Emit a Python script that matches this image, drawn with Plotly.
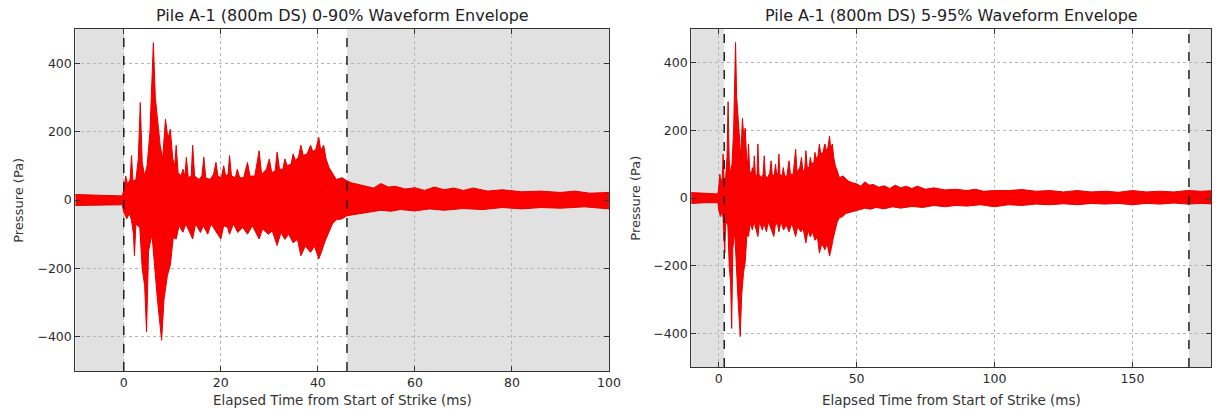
import plotly.graph_objects as go

# ---------------- data ----------------
# upper envelope of the waveform: time (ms), pressure (Pa)
t_upper = [-10, -5, -0.3, 0, 0.4, 0.8, 1.3, 1.6, 1.9, 2.5, 3.0, 3.4, 3.8, 4.3, 4.8, 5.4, 6.1,
           6.5, 7.0, 7.5, 8.0, 8.6, 9.1, 9.6, 10.1, 10.5, 10.8, 11.2, 11.8, 12.2, 12.6, 12.9,
           13.3, 13.9, 14.2, 14.6, 15.5, 16.1, 16.5, 16.9, 17.8, 18.5, 19.0, 19.4, 20.1, 20.6,
           21.0, 21.5, 21.8, 22.2, 23.0, 23.4, 23.9, 24.7, 25.5, 26.0, 27.0, 27.9, 28.4, 29.4,
           30.0, 30.5, 31.2, 31.6, 32.1, 32.8, 33.2, 33.7, 34.5, 34.9, 35.4, 36.0, 36.5, 37.0,
           37.8, 38.5, 39.0, 39.6, 40.2, 40.6, 41.2, 41.7, 42.3, 43.0, 43.8, 45.0, 46.0, 47.0,
           48.5, 50.0, 51.5, 53.0, 54.5, 56.0, 58.0, 60.0, 62.0, 64.0, 66.0, 68.0, 70.0, 72.0,
           75.0, 78.0, 82.0, 86.0, 90.0, 93.0, 96.0, 100, 105, 110, 115, 120, 125, 130, 135,
           140, 145, 150, 155, 160, 165, 170, 175, 180]
p_upper = [16, 14, 12, 30, 70, 45, 60, 130, 55, 60, 120, 285, 110, 70, 100, 200, 460,
           300, 230, 160, 120, 236, 180, 207, 120, 100, 160, 80, 70, 90, 70, 125,
           65, 70, 160, 70, 60, 70, 125, 65, 60, 75, 110, 70, 65, 100,
           70, 75, 130, 70, 65, 90, 65, 65, 110, 70, 70, 144, 75, 90,
           120, 80, 85, 140, 90, 90, 120, 100, 105, 135, 115, 125, 160, 130,
           135, 160, 140, 150, 183, 145, 160, 120, 95, 80, 60, 65, 56, 50,
           45, 42, 35, 48, 38, 40, 32, 36, 28, 38, 30, 35, 28, 35,
           26, 30, 24, 26, 22, 26, 20, 22, 22, 25, 20, 22, 18, 22, 18,
           20, 17, 22, 18, 20, 18, 22, 20, 22]

# lower envelope of the waveform: time (ms), pressure (Pa)
t_lower = [-10, -5, -0.3, 0, 0.6, 1.2, 1.6, 2.0, 2.2, 2.5, 3.3, 3.8, 4.3, 4.7, 5.1, 5.8, 6.4,
           7.0, 7.8, 8.3, 9.0, 9.6, 10.2, 10.8, 11.4, 12.2, 12.8, 13.5, 14.2, 14.8, 15.8, 16.4,
           17.3, 18.0, 19.0, 20.0, 20.6, 21.4, 21.8, 22.6, 23.5, 24.5, 25.5, 26.5, 27.9, 28.6,
           29.8, 30.6, 31.6, 32.4, 33.2, 34.0, 34.9, 35.8, 36.5, 37.4, 38.5, 39.3, 40.2, 40.8,
           41.5, 42.2, 43.0, 43.8, 45.0, 46.0, 47.5, 49.0, 51.0, 53.0, 55.0, 57.0, 60.0, 63.0,
           66.0, 70.0, 74.0, 78.0, 82.0, 86.0, 90.0, 95.0, 100, 105, 110, 115, 120, 125, 130,
           135, 140, 145, 150, 155, 160, 165, 170, 175, 180]
p_lower = [-16, -14, -14, -35, -55, -40, -60, -100, -163, -70, -80, -200, -250, -386, -150, -100, -200,
           -300, -410, -290, -220, -190, -110, -114, -75, -94, -70, -90, -114, -70, -95, -75,
           -100, -70, -90, -114, -75, -80, -100, -70, -95, -80, -100, -75, -114, -85,
           -100, -90, -133, -95, -115, -100, -125, -115, -163, -135, -153, -135, -172, -150,
           -120, -95, -70, -58, -55, -46, -42, -40, -35, -30, -33, -28, -32, -26,
           -30, -25, -28, -22, -26, -22, -24, -20, -26, -20, -22, -18, -20, -17, -20,
           -16, -18, -16, -20, -16, -18, -15, -18, -16, -18]

# analysis windows (ms): start / end of each energy window
window_left = [0, 46]       # 0-90 %
window_right = [2, 170.5]   # 5-95 %

titles = ["Pile A-1 (800m DS) 0-90% Waveform Envelope",
          "Pile A-1 (800m DS) 5-95% Waveform Envelope"]
x_title = "Elapsed Time from Start of Strike (ms)"
y_title = "Pressure (Pa)"
x_ranges = [[-10, 100], [-10, 178.5]]
x_ticks = [[0, 20, 40, 60, 80, 100], [0, 50, 100, 150]]
y_ticks = [-400, -200, 0, 200, 400]
y_range = [-500, 500]

# ---------------- figure ----------------
W, H = 1223, 409
poly_x = t_upper + t_lower[::-1]
poly_y = p_upper + p_lower[::-1]

fig = go.Figure()
for i, (xa, ya) in enumerate([("x", "y"), ("x2", "y2")]):
    fig.add_trace(go.Scatter(
        x=poly_x, y=poly_y, xaxis=xa, yaxis=ya, mode="lines",
        fill="toself", fillcolor="rgb(250,0,0)",
        line=dict(color="rgb(228,0,0)", width=1), hoverinfo="skip", showlegend=False))

# pixel geometry of the two axes boxes
boxes = [dict(l=76, r=615, t=29, b=371), dict(l=698, r=1223, t=29, b=367)]
windows = [window_left, window_right]

font_family = "DejaVu Sans, Verdana, sans-serif"
axis_common = dict(showline=True, linecolor="#333333", linewidth=1, mirror="allticks",
                   ticks="inside", ticklen=5, tickcolor="#333333",
                   showgrid=True, gridcolor="#b5b5b5", griddash="dot", gridwidth=1,
                   zeroline=False, tickfont=dict(family=font_family, size=12.5, color="#2a2a2a"))

shapes = []
annotations = []
for i, bx in enumerate(boxes):
    xd = [bx["l"] / W, bx["r"] / W]
    yd = [(H - bx["b"]) / H, (H - bx["t"]) / H]
    xname = "xaxis" if i == 0 else "xaxis2"
    yname = "yaxis" if i == 0 else "yaxis2"
    xref = "x" if i == 0 else "x2"
    yref = "y" if i == 0 else "y2"
    fig.layout[xname] = dict(axis_common, domain=xd, range=x_ranges[i], anchor=yref,
                             tickvals=x_ticks[i])
    fig.layout[yname] = dict(axis_common, domain=yd, range=y_range, anchor=xref,
                             tickvals=y_ticks)
    w0, w1 = windows[i]
    # grey shading outside the window
    for a, b in [(x_ranges[i][0], w0), (w1, x_ranges[i][1])]:
        shapes.append(dict(type="rect", xref=xref, yref=f"{yref} domain", x0=a, x1=b, y0=0, y1=1,
                           fillcolor="#e1e1e1", line=dict(width=0), layer="below"))
    for v in (w0, w1):
        shapes.append(dict(type="line", xref=xref, yref=f"{yref} domain", x0=v, x1=v, y0=0, y1=1,
                           line=dict(color="#222222", width=1.5, dash="dash"), layer="above"))
    cx = (xd[0] + xd[1]) / 2
    annotations.append(dict(text=titles[i], xref="paper", yref="paper", x=cx, y=(H - 16) / H,
                            xanchor="center", yanchor="middle", showarrow=False,
                            font=dict(family=font_family, size=16, color="#222222")))
    annotations.append(dict(text=x_title, xref="paper", yref="paper", x=cx, y=(H - 400) / H,
                            xanchor="center", yanchor="middle", showarrow=False,
                            font=dict(family=font_family, size=13.5, color="#333333")))
    ylx = 18 if i == 0 else 641
    annotations.append(dict(text=y_title, xref="paper", yref="paper", x=ylx / W,
                            y=(yd[0] + yd[1]) / 2, xanchor="center", yanchor="middle",
                            textangle=-90, showarrow=False,
                            font=dict(family=font_family, size=13, color="#333333")))

fig.update_layout(width=W, height=H, margin=dict(l=0, r=0, t=0, b=0),
                  paper_bgcolor="white", plot_bgcolor="white",
                  shapes=shapes, annotations=annotations, showlegend=False)

fig.write_html("out.html", include_plotlyjs=True, config={"displayModeBar": False})
